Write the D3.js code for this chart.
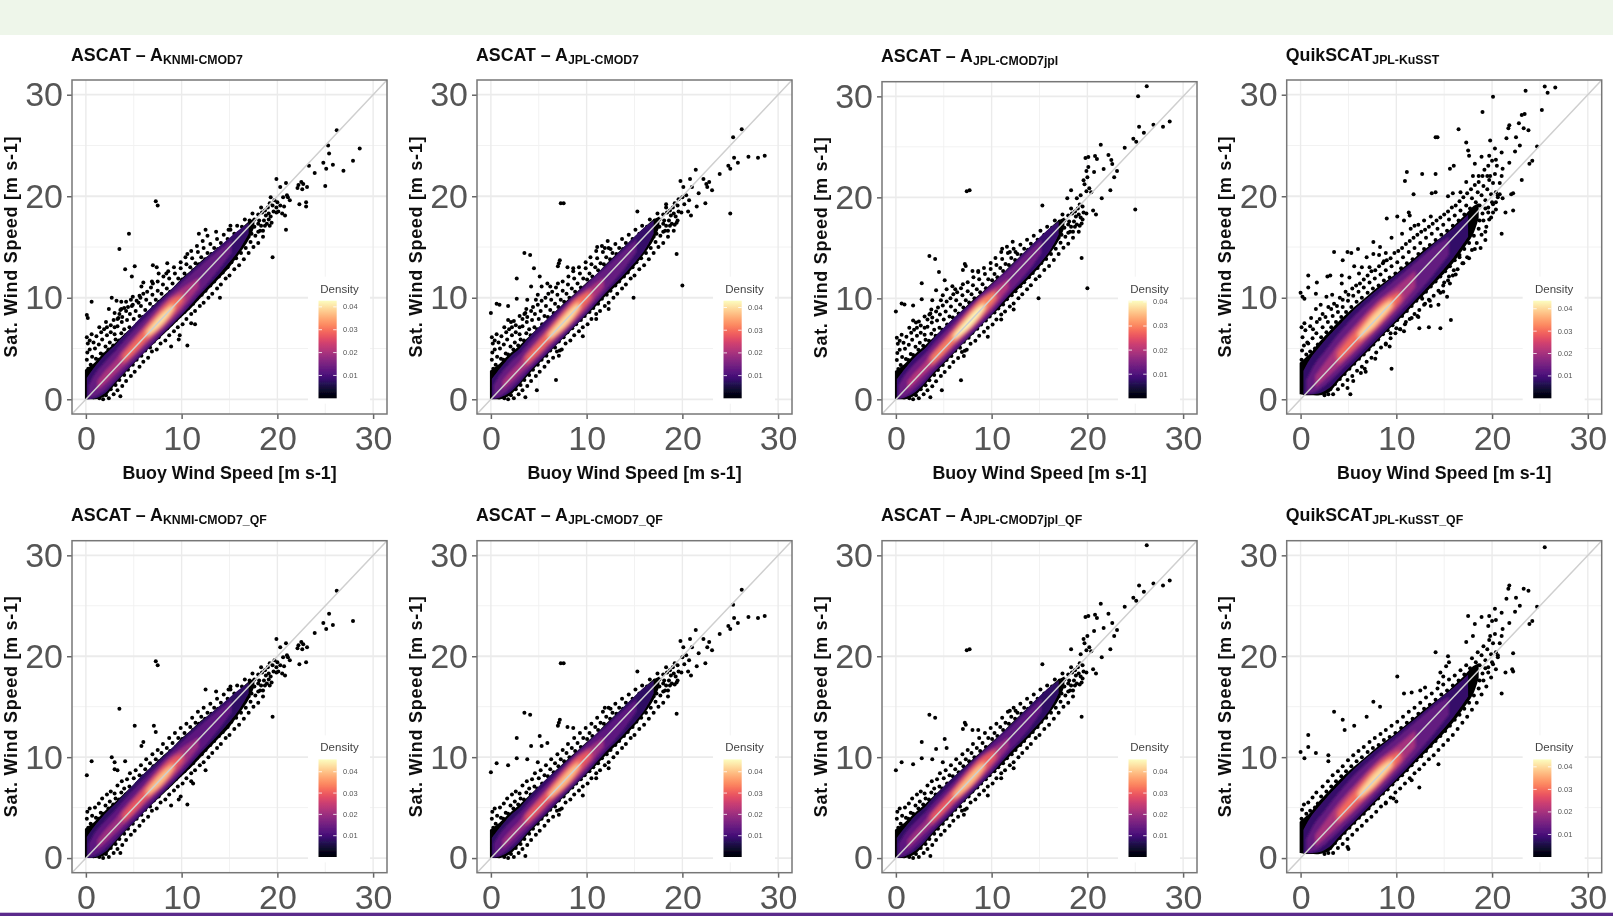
<!DOCTYPE html>
<html>
<head>
<meta charset="utf-8">
<script src="https://cdn.jsdelivr.net/npm/d3@7"></script>
<style>
  html, body { margin: 0; padding: 0; background: #fff; overflow: hidden; }
  text { font-family: "Liberation Sans", Arial, sans-serif; }
</style>
</head>
<body>
<svg id="root" width="1613" height="916"></svg>
<script>
/* global d3 */

// values, wind speeds in m/s
const speedTicks = [0, 10, 20, 30]
const minorTicks = [5, 15, 25]
const densityTicks = [0.01, 0.02, 0.03, 0.04]
const densityLevels = [0.008, 0.013, 0.02, 0.03, 0.04]

const titleNames = ['ASCAT – A', 'ASCAT – A', 'ASCAT – A', 'QuikSCAT', 'ASCAT – A', 'ASCAT – A', 'ASCAT – A', 'QuikSCAT']
const titleSubs = ['KNMI-CMOD7', 'JPL-CMOD7', 'JPL-CMOD7jpl', 'JPL-KuSST', 'KNMI-CMOD7_QF', 'JPL-CMOD7_QF', 'JPL-CMOD7jpl_QF', 'JPL-KuSST_QF']
const legendMax = [0.0427, 0.043, 0.0405, 0.0436, 0.0458, 0.0458, 0.0458, 0.0433]

// solid cloud outlines: [buoy speed, lower sat speed, upper sat speed]
const outerKnmi = [[-0.1, 0, 2.9], [0.5, 0, 3.3], [1, 0, 3.7], [2, 0.3, 4.7], [3, 1.4, 5.5], [4, 2.5, 6.4], [5, 3.5, 7.3], [6, 4.5, 8.3], [7, 5.4, 9.2], [8, 6.3, 10.1], [9, 7.2, 10.9], [10, 8.1, 11.9], [11, 9, 12.7], [12, 10, 13.6], [13, 11, 14.3], [14, 12, 15.1], [15, 13, 15.8], [16, 14.3, 16.6], [17, 15.7, 17.5], [17.6, 17, 17.8]]
const outerJpl = [[-0.1, 0, 2.8], [0.5, 0, 3.2], [1, 0, 3.6], [2, 0.4, 4.5], [3, 1.4, 5.3], [4, 2.5, 6.2], [5, 3.5, 7.1], [6, 4.5, 8], [7, 5.5, 8.9], [8, 6.4, 9.8], [9, 7.4, 10.6], [10, 8.3, 11.5], [11, 9.2, 12.3], [12, 10.2, 13.3], [13, 11.1, 14.2], [14, 12.1, 15.1], [15, 13.1, 16], [16, 14.3, 16.9], [17, 15.7, 17.7], [17.6, 17, 18]]
const outerQuik = [[-0.1, 0.5, 3.6], [0.5, 0.4, 4.1], [1, 0.4, 4.5], [2, 0.4, 5.7], [3, 0.7, 6.7], [4, 1.8, 7.7], [5, 2.8, 8.6], [6, 3.8, 9.4], [7, 4.7, 10.2], [8, 5.7, 11], [9, 6.7, 11.7], [10, 7.6, 12.4], [11, 8.5, 13.2], [12, 9.5, 14], [13, 10.4, 14.8], [14, 11.4, 15.5], [15, 12.4, 16.2], [16, 13.5, 17.1], [17, 14.8, 18], [18, 16.2, 19], [18.6, 17.8, 19.3]]

// density bands per product, lowest level first
const knmiDark = [[0.1, 0, 2.1], [1, 0.1, 3.3], [2, 0.6, 4.4], [3, 1.6, 5.3], [4, 2.6, 6.3], [6, 4.5, 8.3], [8, 6.4, 10], [10, 8.3, 11.8], [12, 10.4, 13.5], [14, 12.4, 15.1], [16, 14.7, 16.7], [17, 16.3, 17.4]]
const knmiPurple = [[0.3, 0.1, 1.4], [1, 0.3, 2.6], [2, 0.9, 3.7], [3, 1.8, 4.7], [4, 2.8, 5.8], [6, 4.7, 7.8], [8, 6.6, 9.7], [10, 8.5, 11.5], [12, 10.6, 13.2], [14, 12.9, 14.8], [15.2, 14.4, 15.7]]
const knmiPink = [[1.2, 0.9, 1.8], [2, 1.5, 2.8], [3, 2.4, 3.8], [4, 3.3, 5], [6, 5.2, 7.1], [8, 7, 9.3], [10, 8.9, 10.9], [11.8, 11, 12]]
const knmiOrange = [[3.8, 3.5, 4.4], [5, 4.5, 5.7], [6, 5.5, 6.8], [7, 6.4, 7.9], [8, 7.3, 9], [9, 8.3, 9.9], [10.2, 9.7, 10.4]]
const knmiPale = [[6.3, 6.1, 6.7], [7.5, 6.9, 8.1], [8.5, 7.9, 9], [9.2, 8.9, 9.4]]

const jplDark = [[0.1, 0, 2], [1, 0.2, 3.1], [2, 0.7, 4.2], [3, 1.6, 5], [4, 2.7, 6.1], [6, 4.6, 8], [8, 6.5, 9.7], [10, 8.4, 11.4], [12, 10.5, 13.2], [14, 12.4, 15.1], [16, 14.6, 16.9], [17, 16.3, 17.6]]
const jplPurple = [[0.3, 0.1, 1.4], [1, 0.3, 2.5], [2, 1, 3.6], [3, 1.9, 4.5], [4, 2.9, 5.6], [6, 4.8, 7.6], [8, 6.7, 9.5], [10, 8.6, 11.3], [12, 10.7, 13], [14, 12.9, 14.8], [15.2, 14.5, 15.8]]
const jplPink = [[1.2, 0.9, 1.8], [2, 1.6, 2.7], [3, 2.5, 3.7], [4, 3.4, 4.9], [6, 5.3, 7], [8, 7.1, 9.2], [10, 9, 10.8], [11.8, 11, 12]]
const jplOrange = [[3.6, 3.3, 4.2], [5, 4.5, 5.7], [6, 5.5, 6.8], [7, 6.4, 7.9], [8, 7.3, 9], [9, 8.3, 10], [10.5, 9.9, 10.8]]
const jplPale = [[6, 5.8, 6.4], [7.5, 6.9, 8.1], [8.5, 7.9, 9.1], [9.3, 9, 9.6]]

const quikDark = [[0.3, 0.5, 2.8], [1, 0.5, 4], [2, 0.6, 5.2], [3, 1.1, 6.3], [4, 2.1, 7.3], [6, 4, 9.2], [8, 5.9, 10.8], [10, 7.8, 12.3], [12, 9.8, 13.8], [14, 11.8, 15.4], [16, 14, 16.9], [17.5, 16, 18.2]]
const quikPurple = [[0.6, 0.5, 1.9], [1.5, 0.7, 3.5], [2.5, 1.3, 4.7], [4, 2.6, 6.5], [6, 4.4, 8.6], [8, 6.3, 10.3], [10, 8.2, 11.9], [12, 10.2, 13.5], [14, 12.4, 15.1], [15.5, 14.2, 16]]
const quikPink = [[1.5, 1.1, 2.3], [2.5, 1.9, 3.6], [4, 3.2, 5.5], [6, 5, 7.6], [8, 6.9, 9.6], [10, 8.8, 11.1], [12, 11, 12.7]]
const quikOrange = [[3.8, 3.5, 4.6], [5, 4.5, 6], [6, 5.4, 7.1], [7, 6.3, 8.2], [8, 7.2, 9.2], [9, 8.2, 10], [10.5, 9.7, 10.7]]
const quikPale = [[6, 5.8, 6.5], [7.5, 6.9, 8.3], [8.5, 7.9, 9.2], [9.6, 9.1, 9.9]]

// dots on the ragged rim of the cloud, shared by the panels of a satellite
const rimAscatUpper = [[0.1, 3.9], [0.25, 3], [0.15, 4.6], [0.5, 3.4], [0.4, 4.9], [0.65, 4.2], [0.8, 3.2], [0.95, 5], [1.05, 4], [1.3, 3.9], [1.35, 5.4], [1.55, 4.5], [1.7, 5.9], [1.8, 4.4], [2.05, 5.2], [2.2, 6.3], [2.35, 4.9], [2.5, 5.6], [2.6, 6.6], [2.85, 5.3], [3, 6.4], [3.1, 5.9], [3.3, 7.2], [3.45, 5.8], [3.7, 6.5], [3.75, 7.6], [4, 6.9], [4.15, 6.3], [4.3, 7.8], [4.55, 7.1], [4.6, 8.4], [4.85, 6.9], [5, 7.9], [5.2, 8.7], [5.35, 7.4], [5.6, 8.2], [5.75, 9.2], [5.95, 8.1], [6.2, 8.8], [6.3, 9.8], [6.55, 8.5], [6.7, 9.4], [6.95, 10.3], [7.05, 9.1], [7.3, 9.8], [7.5, 10.7], [7.65, 9.6], [7.9, 10.4], [8.05, 11.3], [8.2, 10], [8.45, 10.9], [8.7, 11.9], [8.8, 10.6], [9.05, 11.4], [9.3, 12.4], [9.4, 11], [9.65, 11.9], [9.9, 12.9], [10.05, 11.8], [10.3, 12.4], [10.5, 13.3], [10.6, 12.1], [10.9, 13], [11.1, 13.9], [11.2, 12.7], [11.45, 13.4], [11.7, 14.5], [11.8, 13.3], [12.05, 14], [12.3, 14.9], [12.45, 13.8], [12.7, 14.4], [13, 15.3], [13.1, 14.3], [13.4, 14.9], [13.7, 15.8], [13.8, 14.8], [14.1, 15.4], [14.4, 16.2], [14.5, 15.2], [14.8, 15.8], [15.1, 16.7], [15.2, 15.7], [15.5, 16.3], [15.8, 17.1], [16, 16.4], [16.3, 17], [16.6, 17.7], [16.8, 17], [17.1, 17.6], [17.4, 18.3], [17.6, 17.7], [18, 18.2], [18.3, 18.9], [18.1, 17.6]]
const rimAscatLower = [[1.4, 0.1], [1.8, 0], [2.1, 0.4], [2.4, 0.1], [2.6, 1], [2.9, 0.5], [3.1, 1.4], [3.3, 0.9], [3.5, 1.9], [3.8, 1.3], [4, 2.4], [4.2, 1.8], [4.4, 2.9], [4.7, 2.3], [4.9, 3.4], [5.1, 2.7], [5.3, 3.9], [5.6, 3.2], [5.8, 4.3], [6, 3.7], [6.2, 4.8], [6.5, 4.1], [6.7, 5.1], [6.9, 4.7], [7.1, 5.7], [7.4, 4.9], [7.6, 6.1], [7.8, 5.5], [8, 6.6], [8.3, 5.8], [8.5, 7], [8.7, 6.3], [8.9, 7.4], [9.2, 6.7], [9.4, 7.8], [9.6, 7.1], [9.8, 8.2], [10.1, 7.4], [10.3, 8.6], [10.5, 7.9], [10.7, 9], [11, 8.4], [11.2, 9.4], [11.4, 8.7], [11.6, 9.9], [11.9, 9.2], [12.1, 10.3], [12.3, 9.5], [12.5, 10.7], [12.8, 10], [13, 11.2], [13.2, 10.4], [13.4, 11.6], [13.7, 10.9], [13.9, 12.1], [14.1, 11.3], [14.3, 12.5], [14.6, 11.9], [14.8, 13], [15, 12.2], [15.2, 13.5], [15.5, 12.8], [15.7, 13.9], [16, 13.2], [16.2, 14.4], [16.5, 13.8], [16.7, 14.9], [17, 14.4], [17.2, 15.5], [17.5, 15], [17.7, 16.1], [18, 15.4], [18.2, 16.6], [18.5, 16], [18.7, 17.1]]
const rimAscatEnd = [[17.6, 17], [18, 17.3], [18.3, 17.1], [18.6, 17.6], [18.9, 17.3], [18.8, 18.1], [19.1, 18.3], [19.3, 18], [19.6, 18.5], [19.9, 18.4], [19.5, 19.1], [18.4, 18.4], [17.3, 16.3], [17, 16], [16.6, 15.5], [18, 16.5], [18.5, 16.6], [19.4, 17.4], [19, 18.9], [18.7, 18.6], [19.2, 19.3]]
const rimAscatFar = [[0.4, 5.8], [0.8, 5.6], [1.1, 6.2], [1.6, 6.6], [1.9, 6.9], [2.2, 7.1], [2.6, 7.3], [3, 7.1], [3.3, 7.9], [3.5, 8.4], [3.8, 8.1], [4.2, 8.7], [4.4, 9.1], [4.9, 9.3], [5.3, 9.7], [5.7, 10], [6, 10.4], [6.4, 10.6], [6.8, 11], [7, 11.4], [7.5, 11.6], [8.1, 12.1], [8.6, 12.6], [9.2, 13], [9.9, 13.5], [10.4, 14], [11, 14.6], [11.6, 15.1], [12.2, 15.6], [2.1, 7.6], [3.7, 8.9], [4.7, 9.8], [1.4, 7.1], [0.2, 5.5], [0.6, 6.4], [0.1, 6.1]]
const rimQuikUpper = [[0.1, 3.9], [0.2, 3], [0.15, 4.8], [0.4, 3.6], [0.35, 5.3], [0.6, 4.4], [0.75, 3.5], [0.8, 5.5], [1, 4.7], [1.2, 3.9], [1.25, 6], [1.5, 5], [1.65, 6.5], [1.8, 5.4], [2, 4.7], [2.15, 6.1], [2.3, 7.1], [2.5, 5.5], [2.7, 6.6], [2.85, 7.6], [3, 6], [3.2, 7.1], [3.35, 8.2], [3.55, 6.6], [3.7, 7.6], [3.9, 8.6], [4.05, 7.1], [4.25, 8.1], [4.4, 9.1], [4.6, 7.6], [4.75, 8.6], [4.95, 9.7], [5.1, 8.1], [5.3, 9.1], [5.5, 10.2], [5.65, 8.6], [5.85, 9.6], [6.05, 10.6], [6.2, 9], [6.4, 10], [6.6, 11], [6.8, 9.5], [7, 10.5], [7.2, 11.5], [7.35, 9.9], [7.55, 10.9], [7.75, 11.9], [7.95, 10.3], [8.15, 11.2], [8.35, 12.3], [8.5, 10.7], [8.7, 11.7], [8.9, 12.7], [9.1, 11.1], [9.3, 12], [9.5, 13.1], [9.7, 11.5], [9.9, 12.4], [10.1, 13.5], [10.3, 11.9], [10.5, 12.9], [10.7, 14], [10.9, 12.4], [11.1, 13.4], [11.3, 14.5], [11.5, 12.9], [11.7, 13.8], [11.9, 14.9], [12.1, 13.3], [12.3, 14.3], [12.5, 15.4], [12.7, 13.8], [12.9, 14.8], [13.1, 15.9], [13.3, 14.3], [13.5, 15.2], [13.7, 16.3], [13.9, 14.8], [14.1, 15.7], [14.3, 16.8], [14.5, 15.2], [14.7, 16.2], [14.9, 17.2], [15.1, 15.7], [15.3, 16.6], [15.5, 17.7], [15.7, 16.2], [15.9, 17.1], [16.1, 18.1], [16.3, 16.7], [16.5, 17.6], [16.7, 18.6], [16.9, 17.2], [17.1, 18.2], [17.3, 19.1], [17.5, 17.8], [17.7, 18.8], [17.9, 19.8], [18.1, 18.4], [18.3, 19.4], [18.5, 20.4], [18.7, 19.1], [18.9, 20.1], [19.1, 21], [19.3, 19.6], [19.5, 20.7], [19.7, 21.6], [19.9, 20.2], [20.1, 21.3], [20.3, 22.2], [19.8, 22], [19.6, 23], [20, 23.5], [20.4, 20.4], [20.6, 19.9], [20, 19.4], [19.6, 18.9]]
const rimQuikLower = [[2.5, 0.4], [2.9, 0.5], [3.1, 1], [3.4, 0.5], [3.6, 1.5], [3.9, 1], [4.1, 2], [4.4, 1.4], [4.6, 2.5], [4.9, 1.9], [5.1, 3], [5.4, 2.3], [5.6, 3.5], [5.9, 2.8], [6.1, 4], [6.4, 3.2], [6.6, 4.4], [6.9, 3.7], [7.1, 4.9], [7.4, 4.1], [7.6, 5.4], [7.9, 4.6], [8.1, 5.9], [8.4, 5.1], [8.6, 6.4], [8.9, 5.5], [9.1, 6.8], [9.4, 6], [9.6, 7.3], [9.9, 6.5], [10.1, 7.8], [10.4, 6.9], [10.6, 8.2], [10.9, 7.4], [11.1, 8.7], [11.4, 7.9], [11.6, 9.2], [11.9, 8.4], [12.1, 9.7], [12.4, 8.8], [12.6, 10.1], [12.9, 9.3], [13.1, 10.6], [13.4, 9.8], [13.6, 11.1], [13.9, 10.2], [14.1, 11.6], [14.4, 10.7], [14.6, 12.1], [14.9, 11.2], [15.1, 12.6], [15.4, 11.7], [15.6, 13.1], [15.9, 12.2], [16.1, 13.7], [16.4, 12.8], [16.6, 14.2], [16.9, 13.4], [17.1, 14.8], [17.4, 14], [17.6, 15.4], [17.9, 14.7], [18.1, 16.1], [18.4, 15.4], [18.6, 16.8], [18.9, 16.2], [19.1, 17.6], [19.4, 17], [19.6, 18.4], [19.9, 17.9], [20.1, 19.2], [20.4, 18.7], [20.6, 20.1], [18.7, 17.6], [19, 18.3], [19.3, 18.8]]
const rimQuikFar = [[0.2, 6.1], [0.5, 6.8], [0.7, 5.6], [1, 7.2], [1.3, 6.9], [1.7, 7.6], [2, 7.9], [2.3, 8.4], [2.6, 8.1], [2.9, 9.1], [3.2, 8.9], [3.5, 9.4], [3.8, 9.2], [4.1, 10], [4.4, 9.8], [4.7, 10.6], [5, 10.3], [5.4, 10.9], [5.8, 11.2], [6.2, 11.4], [6.6, 11.8], [7, 12.2], [7.4, 12.6], [7.8, 12.7], [8.2, 13.1], [8.6, 13.4], [9, 13.7], [9.4, 13.9], [9.8, 14.4], [10.2, 14.6], [10.6, 14.9], [11, 15.3], [11.4, 15.6], [11.8, 15.9], [12.2, 16.2], [12.6, 16.5], [13, 16.7], [13.4, 17], [13.8, 17.3], [14.2, 17.6], [14.6, 17.9], [15, 18.2], [15.4, 18.5], [15.8, 18.9], [16.2, 19.1], [16.6, 19.5], [17, 19.9], [17.4, 20.3], [17.8, 20.7], [18.2, 21.1], [18.6, 21.4], [19, 22], [19.2, 22.6], [4.3, 11.4], [5.1, 12], [6.1, 12.4], [7.2, 13], [0.1, 7.1], [0.4, 7.5], [1.1, 8], [1.6, 8.9], [2.1, 9.3], [2.7, 10.1], [3.3, 10.3], [16.2, 12.3], [15.6, 11.4], [14.9, 10.6], [13.6, 9.2], [12.2, 8.2], [10.8, 6.7], [9.3, 5.2], [7.8, 4], [6.7, 3], [5.5, 1.8]]

// single dots readable away from the cloud
const pointsKnmi = [[26.2, 26.5], [25.3, 25], [25.4, 24.2], [28.6, 24.7], [27.9, 23.5], [24.8, 23.3], [25.8, 23.1], [25.1, 22.7], [23.3, 23], [23.9, 22.3], [26.9, 22.5], [25, 21], [22.2, 21.1], [22.5, 21.4], [22.7, 21.2], [22.1, 20.8], [22.6, 20.7], [23.1, 20.9], [19.9, 21.7], [20.9, 21.3], [20.3, 20.9], [21, 20.1], [20.6, 19.9], [21.1, 19.9], [21.3, 19.6], [22.3, 19.2], [23, 19.4], [23, 19], [20.9, 16.7], [19.5, 14], [20, 19.4], [20.3, 19.1], [20.7, 19], [19.7, 19.6], [19.3, 19.9], [19.9, 18.9], [20.1, 18.5], [20.5, 18.3], [20.8, 18.1], [19.1, 17.7], [19.2, 17.1], [7.3, 19.5], [7.5, 19.1], [11.8, 16.3], [12.5, 16.7], [12.7, 16.1], [13.6, 16.5], [14.9, 16.7], [15.1, 17.1], [10.6, 14.3], [8.5, 13.4], [7, 13.2], [7.4, 13], [7.6, 12.4], [6.9, 11.6], [8.4, 12.4], [6, 11.5], [5.8, 11.1], [5.1, 13.1], [4.8, 12.1], [4.1, 12.8], [3.5, 14.8], [4.5, 16.3], [5.6, 10.2], [4.9, 10.1], [5.5, 9.5], [4.8, 9.2], [4.2, 9.6], [3.7, 9.6], [3.2, 9.7], [2.7, 10], [2.4, 8.9], [3, 8.5], [3.6, 8.8], [4, 9], [2.9, 7.8], [3.4, 8], [0.6, 9.6], [0.1, 8.3], [0.2, 8], [14, 10], [11, 7.5], [11.4, 7.4], [10.6, 5.3], [9.8, 6.3], [9.7, 5.9], [8.9, 5.2], [3.6, 0.3]]
const pointsJpl = [[26.2, 26.6], [25.3, 25.8], [25.4, 23.8], [25.8, 23.3], [26.9, 23.9], [27.9, 23.8], [28.6, 24], [24.8, 23], [25, 22.7], [23.9, 22.2], [21.4, 22.6], [25, 18.3], [20, 11.2], [19.4, 14.3], [14.9, 10], [7.3, 19.3], [7.6, 19.3], [3.5, 14.4], [4.1, 14.2], [4.5, 12.9], [7.2, 13.7], [7.1, 13.4], [7, 13.1], [5.1, 12.1], [2.7, 11.9], [4.2, 11.1], [5.3, 11.1], [5.9, 11.4], [6.2, 11.1], [8, 13], [8.6, 12.9], [0, 8.5], [0.6, 9.4], [0.9, 9.3], [1.8, 9.2], [2.7, 9.9], [3.8, 9.8], [15.3, 18.5], [23.1, 20.6], [22.6, 20.9], [22.4, 19.3], [21.5, 19], [21.7, 20.3], [21, 20.9], [20.8, 21.7], [19.8, 21.5], [20.1, 20.9], [22.8, 21.4], [22.2, 21.7], [22.5, 21.2], [20.4, 20.1], [20.7, 19.6], [20, 19.9], [19.6, 19.7], [20.2, 19.2], [20.6, 18.5], [20.9, 18.1], [19.5, 17.6], [19.2, 17.2], [19.1, 16.6], [18.3, 19.2], [11.1, 15], [11.9, 14.9], [12.5, 14.8], [4.9, 10.3], [3.6, 8.5], [3, 8.2], [2.4, 7.7], [1.8, 7.8], [12.3, 8.9], [11, 7.9], [9.6, 6.2], [7.2, 4.8], [7.1, 4.3], [6.8, 1.9], [4.8, 0.9], [3.6, 0.2]]
const pointsJplJpl = [[26.2, 31], [25.3, 30], [25.4, 27], [25.9, 26.4], [26.9, 27.2], [27.9, 27], [28.6, 27.5], [24.8, 25.8], [25.1, 25.5], [23.9, 24.9], [21.4, 25.2], [25, 18.8], [20, 11], [19.4, 14], [14.9, 10], [7.4, 20.6], [7.7, 20.7], [3.5, 14.2], [4.1, 13.9], [4.5, 12.6], [7.2, 13.4], [7.3, 13.2], [7, 12.8], [5.1, 11.8], [2.7, 11.5], [4.2, 10.8], [5.3, 10.9], [5.9, 11.2], [6.2, 10.9], [8, 12.7], [8.6, 12.7], [0, 8.7], [0.6, 9.5], [0.9, 9.4], [1.8, 9.3], [2.7, 9.9], [3.8, 9.8], [15.3, 19.2], [23.1, 22.6], [22.6, 23.3], [22.4, 20.7], [21.5, 19.9], [21.7, 22.8], [21, 23.8], [20.8, 24.1], [19.8, 23.9], [20.1, 24], [22.8, 22], [22.2, 24.2], [22.5, 23.7], [20.4, 20.5], [20.7, 22.5], [20, 22], [19.6, 21.7], [20.2, 20.9], [20.6, 18.7], [20.9, 18.3], [19.5, 17.8], [19.2, 17.2], [19.1, 16.6], [18.3, 20.7], [17.9, 19.9], [19.7, 21.3], [19.9, 20.6], [19.3, 20.2], [18.9, 19.9], [20.1, 23], [19.9, 22.6], [11.1, 14.9], [11.9, 14.6], [12.5, 14.6], [4.9, 10.3], [3.6, 8.5], [3, 8.2], [2.4, 7.7], [1.8, 7.8], [12.3, 8.9], [11, 7.9], [9.6, 6.2], [7.2, 4.8], [7.1, 4.3], [6.8, 1.9], [4.8, 0.9], [3.6, 0.2]]
const pointsQuik = [[26.6, 30.7], [25.5, 30.8], [25.8, 30.2], [23.5, 30.4], [25.2, 28.5], [20.1, 29.8], [19, 28.3], [23.1, 28], [23.4, 28.1], [22.8, 27.2], [21.8, 27], [21.7, 26.7], [16.5, 26.6], [14.1, 25.8], [14.3, 25.8], [23.3, 26.7], [23.8, 26.5], [22.5, 25.8], [21.5, 25.7], [19.8, 25.5], [17.3, 25.3], [22.9, 25], [24.7, 24.9], [17.5, 24.5], [17.6, 24], [16, 23], [15.6, 22.7], [11.1, 22.4], [10.9, 21.5], [12.7, 22.2], [14.1, 22.2], [11.8, 20.2], [14.1, 20.4], [13.7, 20.3], [11.3, 18.4], [11.4, 18.1], [10.1, 18], [9, 17.8], [10.8, 17.6], [10.6, 16.3], [7.6, 15.5], [8.3, 15], [3.5, 14.5], [4.9, 14.5], [5.3, 14.4], [6, 14.8], [4.4, 13.7], [5.6, 13.1], [6.9, 14], [0.8, 12.2], [2.8, 12.1], [3.1, 12.2], [4.3, 12.2], [1.7, 11.5], [0.8, 11], [0, 10.5], [0.4, 9.9], [0.2, 10.1], [1.6, 10.4], [15.7, 7.8], [14.4, 9.3], [15.3, 10.1], [14.6, 7], [13.4, 7.1], [12.4, 7], [12.3, 8.1], [9.5, 3], [5.2, 0.5], [4.9, 1.1], [6.3, 2.6], [6.8, 2.7], [21, 16.3], [22.2, 18.6], [21.4, 18.4], [23.1, 21.6], [22.2, 20.3], [22, 20.2], [24.2, 23.5], [23.9, 23.2], [22.4, 24.4], [21, 24.3], [20.3, 24.7], [20.4, 23.6], [19.7, 24], [18.9, 23.9], [18.2, 23.2], [20.5, 23], [21.1, 22.7], [21.8, 23.3], [21, 22], [20.8, 21.3], [19.5, 22], [18.6, 22], [18, 22], [17.3, 21.4], [16.7, 20.4], [15.9, 20.3], [15.4, 20], [20.8, 20.2], [21.1, 19.8], [20.4, 19.4], [20.1, 18.4], [19.7, 17.7], [19.3, 16.5], [19.3, 15.7], [18.8, 14.9], [18.2, 14.8], [17.6, 13.9], [17, 13.4], [16.6, 14], [16, 12.7], [15.5, 12.1], [15, 11.5], [14.6, 10.5], [13.5, 9.7], [13, 9.4], [12.7, 9.9], [11.6, 8], [11, 7.6], [10.4, 6.9], [10, 7], [9.4, 6.5], [8.9, 5.4], [13.6, 18], [12.9, 17.6], [12.3, 17.2], [11.9, 17.1], [11.5, 16.8], [9.5, 15.9], [8.9, 14.4], [8.2, 14.2], [7.6, 14.3], [6.4, 13], [8.7, 13.6]]
const pointsKnmiQf = [[26.2, 26.5], [25.4, 24.2], [27.9, 23.5], [24.8, 23.3], [25.8, 23.1], [25.1, 22.7], [23.9, 22.3], [22.2, 21.1], [22.5, 21.4], [22.7, 21.2], [22.1, 20.8], [22.6, 20.7], [23.1, 20.9], [19.9, 21.7], [20.9, 21.3], [20.3, 20.9], [21, 20.1], [20.6, 19.9], [21.1, 19.9], [21.3, 19.6], [22.3, 19.2], [23, 19.4], [20, 19.4], [20.3, 19.1], [20.7, 19], [19.7, 19.6], [19.9, 18.9], [20.1, 18.5], [20.5, 18.3], [20.8, 18.1], [19.1, 17.7], [19.2, 17.1], [19.5, 14], [7.3, 19.5], [7.5, 19.1], [12.5, 16.7], [13.6, 16.5], [14.9, 16.7], [15.1, 17], [7.1, 13.1], [7.3, 12.5], [5.1, 13.1], [3.5, 14.8], [6, 11.5], [5.8, 11.1], [4.1, 9.6], [3, 9.5], [2.7, 10], [3, 8.8], [3.3, 8.7], [0.6, 9.6], [0.1, 8.2], [12.5, 8.7], [11, 7.6], [11.2, 7.4], [10.6, 5.3], [9.9, 6.1], [9.7, 5.8], [8.9, 5.2], [3.6, 0.5]]
const pointsJplQf = [[26.2, 26.6], [25.3, 25.1], [25.4, 23.8], [25.8, 23.3], [26.9, 23.9], [27.9, 23.8], [28.6, 24], [24.8, 23], [25, 22.7], [23.9, 22.2], [21.4, 22.6], [7.3, 19.3], [7.6, 19.3], [19.4, 14.3], [3.5, 14.4], [4.1, 14.2], [7.2, 13.7], [7.1, 13.4], [7, 13.1], [5.1, 12.1], [2.7, 11.9], [4.2, 11.1], [5.3, 11.1], [5.9, 11.4], [8, 13], [8.6, 12.9], [0, 8.5], [0.6, 9.4], [1.8, 9.2], [2.7, 9.9], [3.8, 9.8], [23.1, 20.6], [22.6, 20.9], [22.4, 19.3], [21.5, 19], [21.7, 20.3], [21, 20.9], [20.8, 21.7], [19.8, 21.5], [20.1, 20.9], [22.8, 21.4], [22.2, 21.7], [20.4, 20.1], [20.7, 19.6], [20, 19.9], [20.2, 19.2], [20.6, 18.5], [20.9, 18.1], [19.5, 17.6], [19.2, 17.2], [15.3, 18.5], [11.9, 14.9], [12.5, 14.8], [4.9, 9.5], [12.3, 8.9], [11, 7.9], [9.6, 6.2], [7.2, 4.8], [7.1, 4.3], [3.6, 0.2]]
const pointsJplJplQf = [[26.2, 31], [25.4, 27], [25.9, 26.4], [26.9, 27.2], [27.9, 27], [28.6, 27.5], [24.8, 25.8], [25.1, 25.5], [23.9, 24.9], [21.4, 25.2], [7.4, 20.6], [7.7, 20.7], [19.4, 14], [3.5, 14.2], [4.1, 13.9], [7.2, 13.4], [7.3, 13.2], [7, 12.8], [5.1, 11.8], [2.7, 11.5], [4.2, 10.8], [5.3, 10.9], [8, 12.7], [8.6, 12.7], [0, 8.7], [0.6, 9.5], [1.8, 9.3], [2.7, 9.9], [3.8, 9.8], [23.1, 22.6], [22.6, 23.3], [22.4, 20.7], [21.5, 19.9], [21.7, 22.8], [21, 23.8], [20.8, 24.1], [19.8, 23.9], [20.1, 24], [22.8, 22], [22.2, 24.2], [20.4, 20.5], [20.7, 22.5], [20, 22], [19.6, 21.7], [20.2, 20.9], [20.6, 18.7], [20.9, 18.3], [19.5, 17.8], [19.2, 17.2], [18.3, 20.7], [19.7, 21.3], [19.9, 20.6], [19.3, 20.2], [15.3, 19.2], [11.9, 14.6], [12.5, 14.6], [4.9, 9.5], [12.3, 8.9], [11, 7.9], [9.6, 6.2], [7.2, 4.8], [7.1, 4.3], [3.6, 0.2]]
const pointsQuikQf = [[25.5, 30.8], [21.8, 27], [21.7, 26.7], [23.3, 26.7], [23.8, 26.5], [22.5, 25.8], [21.5, 25.7], [17.5, 24], [22.9, 25], [24.7, 24.9], [24.2, 23.5], [23.9, 23.2], [22.4, 24.4], [21, 24.3], [20.3, 24.7], [20.4, 23.6], [19.7, 24], [18.9, 23.9], [18.2, 23.2], [21.1, 22.7], [21.8, 23.3], [21, 22], [20.8, 21.3], [18, 22], [17.3, 21.4], [14.1, 20.4], [15.4, 20], [15.5, 19.4], [22.2, 20.3], [22.1, 18.7], [22.2, 18.5], [21.4, 18.4], [21, 16.3], [10.1, 18], [10.8, 16.3], [7.6, 15.5], [8.3, 15], [3.5, 14.5], [4.4, 13.7], [6.9, 14], [5.6, 13.1], [4.6, 12.7], [0.8, 12.2], [0.8, 11], [0, 10.5], [0.4, 9.9], [1.6, 10.4], [2.9, 10.2], [2.9, 9.6], [11.6, 16.4], [12.5, 16.6], [13, 16.9], [14.4, 17.4], [14.9, 18], [14.6, 18.4], [15.2, 19], [14.4, 9.3], [12.4, 7], [11.6, 7.7], [10, 5.6], [9.7, 5.9], [8.9, 5.4], [5, 0.9], [4.9, 1.1]]

const rimAscat = rimAscatUpper.concat(rimAscatLower, rimAscatEnd)
const rimQuik = rimQuikUpper.concat(rimQuikLower)
const outerByPanel = [outerKnmi, outerJpl, outerJpl, outerQuik, outerKnmi, outerJpl, outerJpl, outerQuik]
const pointsByPanel = [
  pointsKnmi.concat(rimAscat, rimAscatFar), pointsJpl.concat(rimAscat, rimAscatFar), pointsJplJpl.concat(rimAscat, rimAscatFar), pointsQuik.concat(rimQuik, rimQuikFar),
  pointsKnmiQf.concat(rimAscat), pointsJplQf.concat(rimAscat), pointsJplJplQf.concat(rimAscat), pointsQuikQf.concat(rimQuik)
]
const knmiBands = [knmiDark, knmiPurple, knmiPink, knmiOrange, knmiPale]
const jplBands = [jplDark, jplPurple, jplPink, jplOrange, jplPale]
const quikBands = [quikDark, quikPurple, quikPink, quikOrange, quikPale]
const bandsByPanel = [knmiBands, jplBands, jplBands, quikBands, knmiBands, jplBands, jplBands, quikBands]

// layout
const colLeft = [72, 477, 882, 1286.7]
const panelW = 315
const rowTop = [80, 540.7]
const panelH = [334, 332]
const bandBlur = [0.7, 1.2, 1.6, 2, 2]
const speedDomain = [-1.45, 31.45]

const svg = d3.select('#root')
const defs = svg.append('defs')

const softAll = defs.append('filter').attr('id', 'softAll')
  .attr('filterUnits', 'userSpaceOnUse')
  .attr('x', 0).attr('y', 0).attr('width', 1613).attr('height', 916)
softAll.append('feGaussianBlur').attr('stdDeviation', 0.5)

bandBlur.forEach((s, i) => {
  defs.append('filter').attr('id', 'blur' + i)
    .attr('x', '-20%').attr('y', '-20%').attr('width', '140%').attr('height', '140%')
    .append('feGaussianBlur').attr('stdDeviation', s)
})

const barGradient = defs.append('linearGradient').attr('id', 'barGradient')
  .attr('x1', 0).attr('x2', 0).attr('y1', 1).attr('y2', 0)
d3.range(0, 1.001, 0.05).forEach(t => {
  barGradient.append('stop').attr('offset', t).attr('stop-color', d3.interpolateMagma(t))
})

svg.append('rect').attr('width', 1613).attr('height', 916).attr('fill', '#fff')
svg.append('rect').attr('width', 1613).attr('height', 35).attr('fill', '#eef6ea')

const root = svg.append('g').attr('filter', 'url(#softAll)')

function drawPanel(i) {
  const col = i % 4
  const row = i < 4 ? 0 : 1
  const left = colLeft[col]
  const top = rowTop[row] + (i === 2 ? 1.7 : 0)
  const h = panelH[row] - (i === 2 ? 1.7 : 0)
  const x = d3.scaleLinear().domain(speedDomain).range([0, panelW])
  const y = d3.scaleLinear().domain(speedDomain).range([h, 0])

  const g = root.append('g').attr('transform', 'translate(' + left + ',' + top + ')')

  defs.append('clipPath').attr('id', 'clip' + i)
    .append('rect').attr('width', panelW).attr('height', h)

  // grid
  g.append('g').selectAll('line').data(minorTicks).enter().append('line')
    .attr('x1', d => x(d)).attr('x2', d => x(d)).attr('y1', 0).attr('y2', h)
    .attr('stroke', '#f2f2f2').attr('stroke-width', 1)
  g.append('g').selectAll('line').data(minorTicks).enter().append('line')
    .attr('y1', d => y(d)).attr('y2', d => y(d)).attr('x1', 0).attr('x2', panelW)
    .attr('stroke', '#f2f2f2').attr('stroke-width', 1)
  g.append('g').selectAll('line').data(speedTicks).enter().append('line')
    .attr('x1', d => x(d)).attr('x2', d => x(d)).attr('y1', 0).attr('y2', h)
    .attr('stroke', '#ebebeb').attr('stroke-width', 1.4)
  g.append('g').selectAll('line').data(speedTicks).enter().append('line')
    .attr('y1', d => y(d)).attr('y2', d => y(d)).attr('x1', 0).attr('x2', panelW)
    .attr('stroke', '#ebebeb').attr('stroke-width', 1.8)

  // cloud, then dots, then density bands on top of them
  const area = d3.area()
    .x(d => x(d[0])).y0(d => y(d[1])).y1(d => y(d[2]))
    .curve(d3.curveCatmullRom)
  const magma = d3.scaleSequential(d3.interpolateMagma).domain([0, legendMax[i]]).clamp(true)
  const marks = g.append('g').attr('clip-path', 'url(#clip' + i + ')')

  marks.append('path').datum(outerByPanel[i])
    .attr('d', area).attr('fill', '#000004').attr('filter', 'url(#blur0)')

  marks.selectAll('.dot').data(pointsByPanel[i]).enter().append('circle')
    .attr('class', 'dot')
    .attr('cx', d => x(d[0])).attr('cy', d => y(d[1]))
    .attr('r', 2).attr('fill', '#000004')

  bandsByPanel[i].forEach((band, k) => {
    marks.append('path').datum(band)
      .attr('d', area).attr('fill', magma(densityLevels[k]))
      .attr('filter', 'url(#blur' + k + ')')
  })

  // 1:1 line
  g.append('line')
    .attr('x1', x(speedDomain[0])).attr('y1', y(speedDomain[0]))
    .attr('x2', x(speedDomain[1])).attr('y2', y(speedDomain[1]))
    .attr('stroke', '#cfcfcf').attr('stroke-width', 1.5)

  // axes
  const yAxis = g.append('g').call(d3.axisLeft(y).tickValues(speedTicks).tickSize(5).tickPadding(4))
  const xAxis = g.append('g').attr('transform', 'translate(0,' + h + ')')
    .call(d3.axisBottom(x).tickValues(speedTicks).tickSize(5).tickPadding(7))
  ;[yAxis, xAxis].forEach(a => {
    a.select('.domain').remove()
    a.selectAll('line').attr('stroke', '#666').attr('stroke-width', 1.5)
    a.selectAll('text').attr('fill', '#555').attr('font-size', 34)
      .attr('font-family', '"Liberation Sans", Arial, sans-serif')
  })

  g.append('rect').attr('width', panelW).attr('height', h)
    .attr('fill', 'none').attr('stroke', '#777').attr('stroke-width', 1.5)

  // legend, inset in the panel
  const barTop = h - 113.3
  const barH = 97.6
  const legendY = d3.scaleLinear().domain([0, legendMax[i]]).range([barTop + barH, barTop])
  const legend = g.append('g')
  legend.append('rect').attr('x', 236).attr('y', barTop - 24).attr('width', 62).attr('height', 127).attr('fill', '#fff')
  legend.append('text').attr('x', 267.5).attr('y', barTop - 8).attr('text-anchor', 'middle')
    .attr('font-size', 11.5).attr('fill', '#444').text('Density')
  legend.append('rect')
    .attr('x', 246.5).attr('width', 18.2)
    .attr('y', barTop).attr('height', barH)
    .attr('fill', 'url(#barGradient)')
  legend.selectAll('.tickmark').data(densityTicks).enter().append('g').attr('class', 'tickmark')
    .each(function (d) {
      const t = d3.select(this)
      t.append('line').attr('x1', 246.5).attr('x2', 250).attr('y1', legendY(d)).attr('y2', legendY(d))
        .attr('stroke', '#fff').attr('stroke-width', 0.8)
      t.append('line').attr('x1', 261.2).attr('x2', 264.7).attr('y1', legendY(d)).attr('y2', legendY(d))
        .attr('stroke', '#fff').attr('stroke-width', 0.8)
      t.append('text').attr('x', 271).attr('y', legendY(d) + 2.5)
        .attr('font-size', 7.5).attr('fill', '#555').text(d.toFixed(2))
    })

  // titles
  const title = g.append('text').attr('x', -1).attr('y', -19.5)
    .attr('font-size', 17.8).attr('font-weight', 700).attr('fill', '#111')
  title.append('tspan').text(titleNames[i])
  title.append('tspan').attr('dy', 3).attr('font-size', 12.3).text(titleSubs[i])

  if (row === 0) {
    g.append('text').attr('x', panelW / 2).attr('y', h + 65)
      .attr('text-anchor', 'middle').attr('font-size', 17.8).attr('font-weight', 700).attr('fill', '#111')
      .text('Buoy Wind Speed [m s-1]')
  }
  g.append('text')
    .attr('transform', 'translate(-55.5,' + (h / 2) + ') rotate(-90)')
    .attr('text-anchor', 'middle').attr('font-size', 18).attr('font-weight', 700).attr('fill', '#111')
    .attr('textLength', 221).attr('lengthAdjust', 'spacing')
    .text('Sat. Wind Speed [m s-1]')
}

d3.range(8).forEach(drawPanel)

// purple strip closing the page
svg.append('rect').attr('y', 912.7).attr('width', 1613).attr('height', 3.3).attr('fill', '#5b2a8c')
</script>
</body>
</html>
